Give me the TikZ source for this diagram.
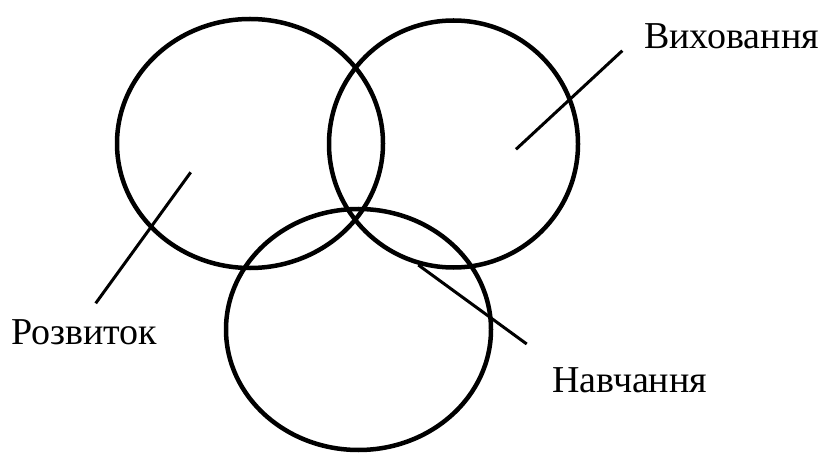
\documentclass[tikz,border=0pt]{standalone}
\usepackage{fontspec}
\setmainfont{Liberation Serif}
\usepackage{tikz}
\usetikzlibrary{shapes.geometric}

\begin{document}
\begin{tikzpicture}[x=1pt,y=1pt,ov/.style={draw,ellipse,line width=4.5pt,inner sep=0pt},lbl/.style={inner sep=0pt,anchor=base west,font=\fontsize{38}{42}\selectfont},ln/.style={line width=3pt}]
\useasboundingbox (0,0) rectangle (819,453);
\node[ov,minimum width=266pt,minimum height=249pt] (rozv) at (250,309.5) {};
\node[ov,minimum width=249pt,minimum height=247pt] (vykh) at (453.5,309) {};
\node[ov,minimum width=265pt,minimum height=241pt] (navch) at (358.5,123.5) {};
\node[lbl] (trozv) at (11,109) {Розвиток};
\node[lbl] (tvykh) at (644,404.7) {Виховання};
\node[lbl] (tnavch) at (552,60.7) {Навчання};
\coordinate (a1) at (190.7,280.7); \coordinate (a2) at (95.7,149.7);
\coordinate (b1) at (516,303.7); \coordinate (b2) at (622.3,402.3);
\coordinate (c1) at (418.3,188); \coordinate (c2) at (526.7,109);
\draw[ln] (a1)--(a2); \draw[ln] (b1)--(b2); \draw[ln] (c1)--(c2);
\end{tikzpicture}
\end{document}
